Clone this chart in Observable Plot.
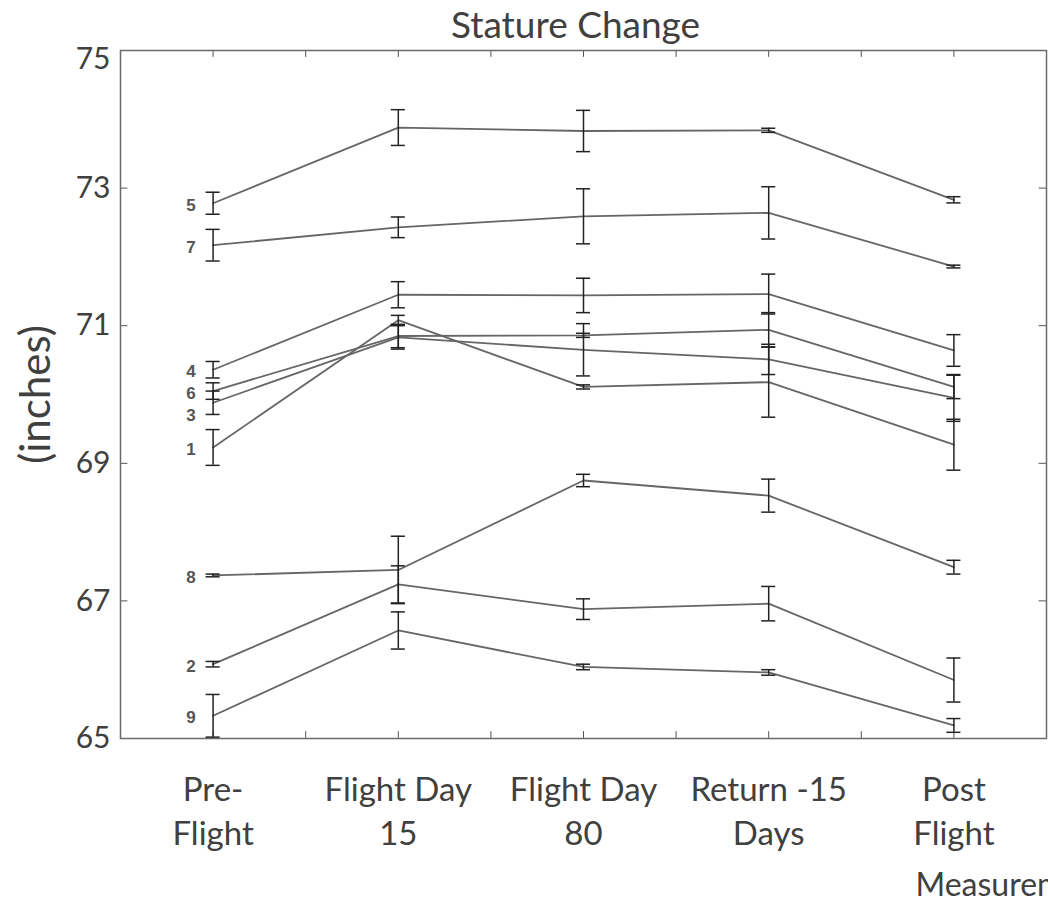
<!DOCTYPE html>
<html><head><meta charset="utf-8">
<script src="https://cdn.jsdelivr.net/npm/d3@7"></script>
<script src="https://cdn.jsdelivr.net/npm/@observablehq/plot@0.6"></script>
<style>body{margin:0;background:#fff;} svg{display:block;}</style>
</head><body><div id="chart"></div>
<script>
const phases = ["Pre-\nFlight", "Flight Day\n15", "Flight Day\n80", "Return -15\nDays", "Post\nFlight"];
const subjects = ["1","2","3","4","5","6","7","8","9"];
const means = [
  [69.23, 71.08, 70.11, 70.18, 69.27],
  [66.08, 67.24, 66.88, 66.96, 65.85],
  [69.88, 70.83, 70.65, 70.51, 69.95],
  [70.36, 71.45, 71.44, 71.46, 70.64],
  [72.78, 73.88, 73.83, 73.84, 72.83],
  [70.05, 70.85, 70.86, 70.94, 70.11],
  [72.17, 72.43, 72.59, 72.64, 71.86],
  [67.37, 67.45, 68.75, 68.53, 67.49],
  [65.33, 66.57, 66.04, 65.96, 65.19]
];
const errors = [
  [0.26, 0.07, 0.03, 0.51, 0.37],
  [0.04, 0.27, 0.15, 0.25, 0.32],
  [0.17, 0.17, 0.38, 0.22, 0.34],
  [0.12, 0.19, 0.25, 0.29, 0.23],
  [0.16, 0.26, 0.30, 0.03, 0.045],
  [0.12, 0.17, 0.03, 0.25, 0.17],
  [0.23, 0.15, 0.40, 0.38, 0.02],
  [0.02, 0.49, 0.09, 0.24, 0.10],
  [0.31, 0.27, 0.04, 0.04, 0.10]
];
const yTicks = [65, 67, 69, 71, 73, 75];
const title = "Stature Change";
const yLabel = "(inches)";
const xLabel = "Measurement";

const rows = [];
subjects.forEach((s, si) => phases.forEach((p, pi) => rows.push({s, t: pi, v: means[si][pi], e: errors[si][pi]})));

// start-of-line labels, pushed apart so they don't collide
const minGap = 0.32;
const firsts = rows.filter(d => d.t === 0).sort((a, b) => b.v - a.v);
let prev = Infinity;
const labels = firsts.map(d => { const ly = Math.min(d.v, prev - minGap); prev = ly; return {...d, ly}; });

const capHalf = 0.038;      // cap half width in x units
const tickLenX = 0.1;       // inward tick length (y units)
const tickLenY = 0.04;      // inward tick length (x units)
const minorX = d3.range(-0.5, 4.51, 0.5).filter(v => v > -0.5 && v < 4.5);
const innerY = yTicks.filter(v => v > 65 && v < 75);
const font = "Lato, 'Open Sans', sans-serif";
const txt = "#404040";

const chart = Plot.plot({
  width: 1048, height: 903,
  marginLeft: 120, marginRight: 2, marginTop: 50, marginBottom: 165,
  style: {fontFamily: font, background: "#fff"},
  x: {domain: [-0.5, 4.5], axis: null},
  y: {domain: [65, 75], axis: null},
  marks: [
    Plot.ruleX(minorX, {x: d => d, y1: 65, y2: 65 + tickLenX, stroke: "#555"}),
    Plot.ruleX(minorX, {x: d => d, y1: 75, y2: 75 - tickLenX, stroke: "#555"}),
    Plot.ruleY(innerY, {y: d => d, x1: -0.5, x2: -0.5 + tickLenY, stroke: "#555"}),
    Plot.ruleY(innerY, {y: d => d, x1: 4.5, x2: 4.5 - tickLenY, stroke: "#555"}),
    Plot.frame({stroke: "#6a6a6a", strokeWidth: 1.5}),
    Plot.line(rows, {x: "t", y: "v", z: "s", stroke: "#666", strokeWidth: 1.8}),
    Plot.ruleX(rows, {x: "t", y1: d => d.v - d.e, y2: d => d.v + d.e, stroke: "#222", strokeWidth: 1.5}),
    Plot.ruleY(rows, {y: d => d.v - d.e, x1: d => d.t - capHalf, x2: d => d.t + capHalf, stroke: "#222", strokeWidth: 1.5}),
    Plot.ruleY(rows, {y: d => d.v + d.e, x1: d => d.t - capHalf, x2: d => d.t + capHalf, stroke: "#222", strokeWidth: 1.5}),
    Plot.text(labels, {x: "t", y: "ly", text: "s", dx: -22, dy: 2, fontSize: 17, fontWeight: "bold", fill: "#555", fontFamily: "'Liberation Sans', Arial, sans-serif"}),
    Plot.axisY({ticks: yTicks.slice(0, -1), label: null, tickSize: 0, tickPadding: 10, fontSize: 30, fill: txt, fontFamily: font}),
    Plot.axisY({ticks: yTicks.slice(-1), label: null, tickSize: 0, tickPadding: 10, dy: 9, fontSize: 30, fill: txt, fontFamily: font}),
    Plot.text(phases, {x: (d, i) => i, frameAnchor: "bottom", lineAnchor: "top", dy: 31, lineHeight: 1.33, fontSize: 33, fill: txt, fontFamily: font}),
    Plot.text([title], {frameAnchor: "top", lineAnchor: "middle", dx: -8, dy: -24.5, fontSize: 37, fill: txt, fontFamily: font}),
    Plot.text([yLabel], {frameAnchor: "left", textAnchor: "middle", lineAnchor: "middle", dx: -84, rotate: -90, fontSize: 42, fill: txt, fontFamily: font}),
    Plot.text([xLabel], {frameAnchor: "bottom", textAnchor: "start", lineAnchor: "middle", dx: 332, dy: 147, fontSize: 32, fill: txt, fontFamily: font})
  ]
});
document.getElementById("chart").appendChild(chart);
</script></body></html>
